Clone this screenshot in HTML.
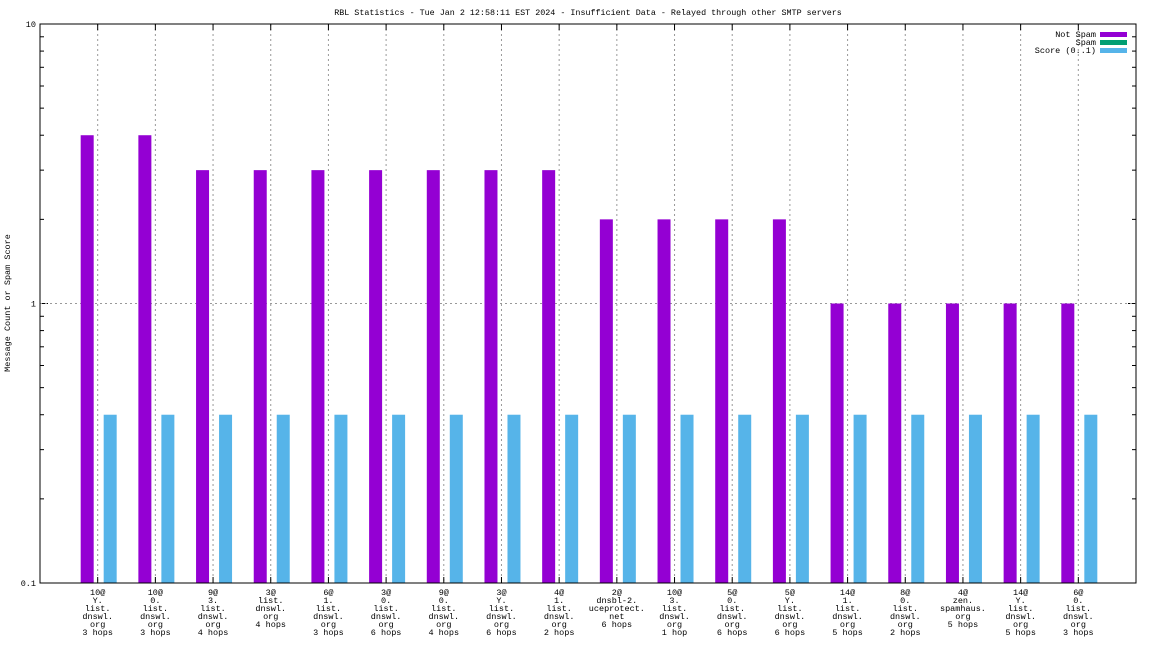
<!DOCTYPE html>
<html><head><meta charset="utf-8"><style>
body{margin:0;background:#fff}
svg{display:block}
text{font-family:"Liberation Mono","DejaVu Sans Mono",monospace;font-size:8.5px;fill:#000}
</style></head><body>
<svg id="c" width="1152" height="648" xmlns="http://www.w3.org/2000/svg">
<text x="588" y="15" text-anchor="middle" style="font-size:8.4px">RBL Statistics - Tue Jan  2 12:58:11 EST 2024 - Insufficient Data - Relayed through other SMTP servers</text>
<text transform="translate(10,303) rotate(-90)" text-anchor="middle">Message Count or Spam Score</text>
<g id="grid"></g><g id="bars"></g><g id="labels"></g>
<rect x="40" y="24" width="1096" height="559" fill="none" stroke="#000" stroke-width="1"/>
<g>
<text x="1096" y="37" text-anchor="end">Not Spam</text>
<rect x="1100" y="32" width="27" height="5" fill="#9400d3"/>
<text x="1096" y="45" text-anchor="end">Spam</text>
<rect x="1100" y="40" width="27" height="5" fill="#009e73"/>
<text x="1096" y="53" text-anchor="end">Score (0..1)</text>
<rect x="1100" y="48" width="27" height="5" fill="#56b4e9"/>
</g>
</svg>
<script>
const categories=[["10@","Y.","list.","dnswl.","org","3 hops"],["10@","0.","list.","dnswl.","org","3 hops"],["9@","3.","list.","dnswl.","org","4 hops"],["3@","list.","dnswl.","org","4 hops"],["6@","1.","list.","dnswl.","org","3 hops"],["3@","0.","list.","dnswl.","org","6 hops"],["9@","0.","list.","dnswl.","org","4 hops"],["3@","Y.","list.","dnswl.","org","6 hops"],["4@","1.","list.","dnswl.","org","2 hops"],["2@","dnsbl-2.","uceprotect.","net","6 hops"],["10@","3.","list.","dnswl.","org","1 hop"],["5@","0.","list.","dnswl.","org","6 hops"],["5@","Y.","list.","dnswl.","org","6 hops"],["14@","1.","list.","dnswl.","org","5 hops"],["8@","0.","list.","dnswl.","org","2 hops"],["4@","zen.","spamhaus.","org","5 hops"],["14@","Y.","list.","dnswl.","org","5 hops"],["6@","0.","list.","dnswl.","org","3 hops"]];
const notSpam=[4,4,3,3,3,3,3,3,3,2,2,2,2,1,1,1,1,1];
const spam=[0,0,0,0,0,0,0,0,0,0,0,0,0,0,0,0,0,0];
const score=[0.4,0.4,0.4,0.4,0.4,0.4,0.4,0.4,0.4,0.4,0.4,0.4,0.4,0.4,0.4,0.4,0.4,0.4];
const yTicks=[0.1,1,10];
const yTickLabels=["0.1","1","10"];
const NS="http://www.w3.org/2000/svg";
const L=40,R=1136,T=24,B=583;
function y(v){return B-(Math.log10(v)+1)/2*(B-T);}
function xc(i){return L+(i+1)*(R-L)/(categories.length+1);}
function mk(tag,at,parent){const e=document.createElementNS(NS,tag);for(const k in at)e.setAttribute(k,at[k]);document.getElementById(parent).appendChild(e);return e;}
yTicks.forEach((v,i)=>{
  const t=mk('text',{x:L-4,y:y(v)+3,'text-anchor':'end'},'labels');t.textContent=yTickLabels[i];
  
  
  mk('line',{x1:L,x2:L+8,y1:y(v),y2:y(v),stroke:'#000'},'grid');
  mk('line',{x1:R-8,x2:R,y1:y(v),y2:y(v),stroke:'#000'},'grid');
  if(v>0.1&&v<10){const g=mk('line',{x1:L,x2:R,y1:y(v),y2:y(v),stroke:'#999','stroke-dasharray':'2,3'},'grid');
  
  }
});
[0.1,1].forEach(d=>{for(let m=2;m<=9;m++){const v=d*m;
  mk('line',{x1:L,x2:L+4,y1:y(v),y2:y(v),stroke:'#000'},'grid');
  mk('line',{x1:R-4,x2:R,y1:y(v),y2:y(v),stroke:'#000'},'grid');}});
categories.forEach((c,i)=>{
  const x=xc(i);
  const g=mk('line',{x1:x,x2:x,y1:T,y2:B,stroke:'#999','stroke-dasharray':'2,3'},'grid');
  
  
  mk('line',{x1:x,x2:x,y1:B,y2:B-6,stroke:'#000'},'grid');
  mk('line',{x1:x,x2:x,y1:T,y2:T+6,stroke:'#000'},'grid');
  if(notSpam[i]>0.1){const b=mk('rect',{x:x-17,y:y(notSpam[i]),width:13,height:B-y(notSpam[i]),fill:'#9400d3'},'bars');
  
  }
  if(spam[i]>0.1){const b=mk('rect',{x:x-4,y:y(spam[i]),width:10,height:B-y(spam[i]),fill:'#009e73'},'bars');
  
  }
  if(score[i]>0.1){const b=mk('rect',{x:x+6,y:y(score[i]),width:13,height:B-y(score[i]),fill:'#56b4e9'},'bars');
  
  }
  const t=mk('text',{x:x,y:595,'text-anchor':'middle'},'labels');
  
  
  c.forEach((s,j)=>{const ts=document.createElementNS(NS,'tspan');ts.setAttribute('x',x);ts.setAttribute('dy',j?8:0);ts.textContent=s;t.appendChild(ts);});
});
</script>
</body></html>
